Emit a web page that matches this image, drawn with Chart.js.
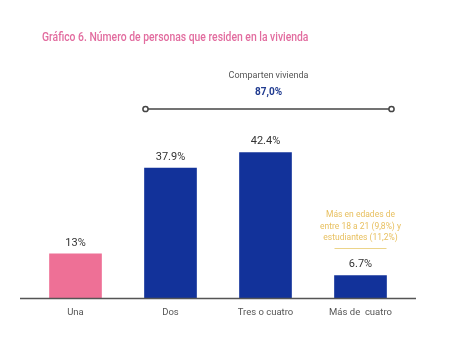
<!DOCTYPE html>
<html>
<head>
<meta charset="utf-8">
<script src="https://cdn.jsdelivr.net/npm/chart.js@4"></script>
<style>
  html, body { margin: 0; padding: 0; background: #fff; }
  #wrap { width: 450px; height: 343px; position: relative; }
</style>
</head>
<body>
<div id="wrap"><canvas id="grafico"></canvas></div>
<script>
// Datos del gráfico
const categorias = ['Una', 'Dos', 'Tres o cuatro', 'Más de  cuatro'];
const valores = [13, 37.9, 42.4, 6.7];
const etiquetas = ['13%', '37.9%', '42.4%', '6.7%'];
const colores = ['#ee7096', '#12329a', '#12329a', '#12329a'];

const titulo = 'Gráfico 6. Número de personas que residen en la vivienda';
const textoBracket = 'Comparten vivienda';
const valorBracket = '87,0%';
const notaMas = ['Más en edades de', 'entre 18 a 21 (9,8%) y', 'estudiantes (11,2%)'];

const fuente = 'Roboto, "Liberation Sans", sans-serif';

// Plugin para textos, línea de base y anotaciones
const anotaciones = {
    id: 'anotaciones',
    afterDatasetsDraw(chart) {
        const ctx = chart.ctx;
        const area = chart.chartArea;
        const meta = chart.getDatasetMeta(0);

        ctx.save();

        // título (fuente estrecha simulada)
        ctx.save();
        ctx.translate(42, 38);
        ctx.scale(0.83, 1);
        ctx.fillStyle = '#e26c9f';
        ctx.font = '500 12.5px ' + fuente;
        ctx.textAlign = 'left';
        ctx.textBaseline = 'middle';
        ctx.fillText(titulo, 0, 0);
        ctx.restore();

        ctx.textBaseline = 'middle';

        // línea base
        ctx.strokeStyle = '#555';
        ctx.lineWidth = 1.5;
        ctx.beginPath();
        ctx.moveTo(20, area.bottom);
        ctx.lineTo(416, area.bottom);
        ctx.stroke();

        // etiquetas de valor
        ctx.fillStyle = '#333';
        ctx.font = '11px ' + fuente;
        ctx.textAlign = 'center';
        meta.data.forEach((bar, i) => {
            ctx.fillText(etiquetas[i], bar.x, bar.y - 11);
        });

        // bracket "Comparten vivienda"
        const x1 = meta.data[1].x - 25;
        const x2 = meta.data[3].x + 31;
        const yb = 109;
        ctx.strokeStyle = '#444';
        ctx.lineWidth = 1.5;
        ctx.beginPath();
        ctx.moveTo(x1, yb);
        ctx.lineTo(x2, yb);
        ctx.stroke();
        [x1, x2].forEach(x => {
            ctx.beginPath();
            ctx.arc(x, yb, 2.6, 0, Math.PI * 2);
            ctx.fillStyle = '#fff';
            ctx.fill();
            ctx.stroke();
        });
        const xm = (x1 + x2) / 2;
        ctx.fillStyle = '#555';
        ctx.font = '9px ' + fuente;
        ctx.fillText(textoBracket, xm, 76);
        ctx.fillStyle = '#1f3a8f';
        ctx.font = 'bold 10px ' + fuente;
        ctx.fillText(valorBracket, xm, 92);

        // nota dorada
        const bMas = meta.data[3];
        ctx.fillStyle = '#e8c060';
        ctx.font = '8.5px ' + fuente;
        notaMas.forEach((linea, i) => {
            ctx.fillText(linea, bMas.x, 215 + i * 11.5);
        });
        ctx.strokeStyle = '#ecd48a';
        ctx.lineWidth = 1;
        ctx.beginPath();
        ctx.moveTo(bMas.x - 26, 248.5);
        ctx.lineTo(bMas.x + 26, 248.5);
        ctx.stroke();

        ctx.restore();
    }
};

const ctx = document.getElementById('grafico').getContext('2d');

new Chart(ctx, {
    type: 'bar',
    data: {
        labels: categorias,
        datasets: [{
            data: valores,
            backgroundColor: colores,
            borderWidth: 0,
            barThickness: 52
        }]
    },
    options: {
        responsive: true,
        maintainAspectRatio: false,
        animation: false,
        layout: {
            padding: { top: 92, left: 28, right: 42, bottom: 17 }
        },
        scales: {
            x: {
                grid: { display: false, drawTicks: false },
                border: { display: false },
                ticks: {
                    color: '#555',
                    font: { family: fuente, size: 9.5 },
                    padding: 8
                }
            },
            y: {
                display: false,
                min: 0,
                max: 60
            }
        },
        plugins: {
            legend: { display: false },
            tooltip: { enabled: false }
        }
    },
    plugins: [anotaciones]
});
</script>
</body>
</html>
